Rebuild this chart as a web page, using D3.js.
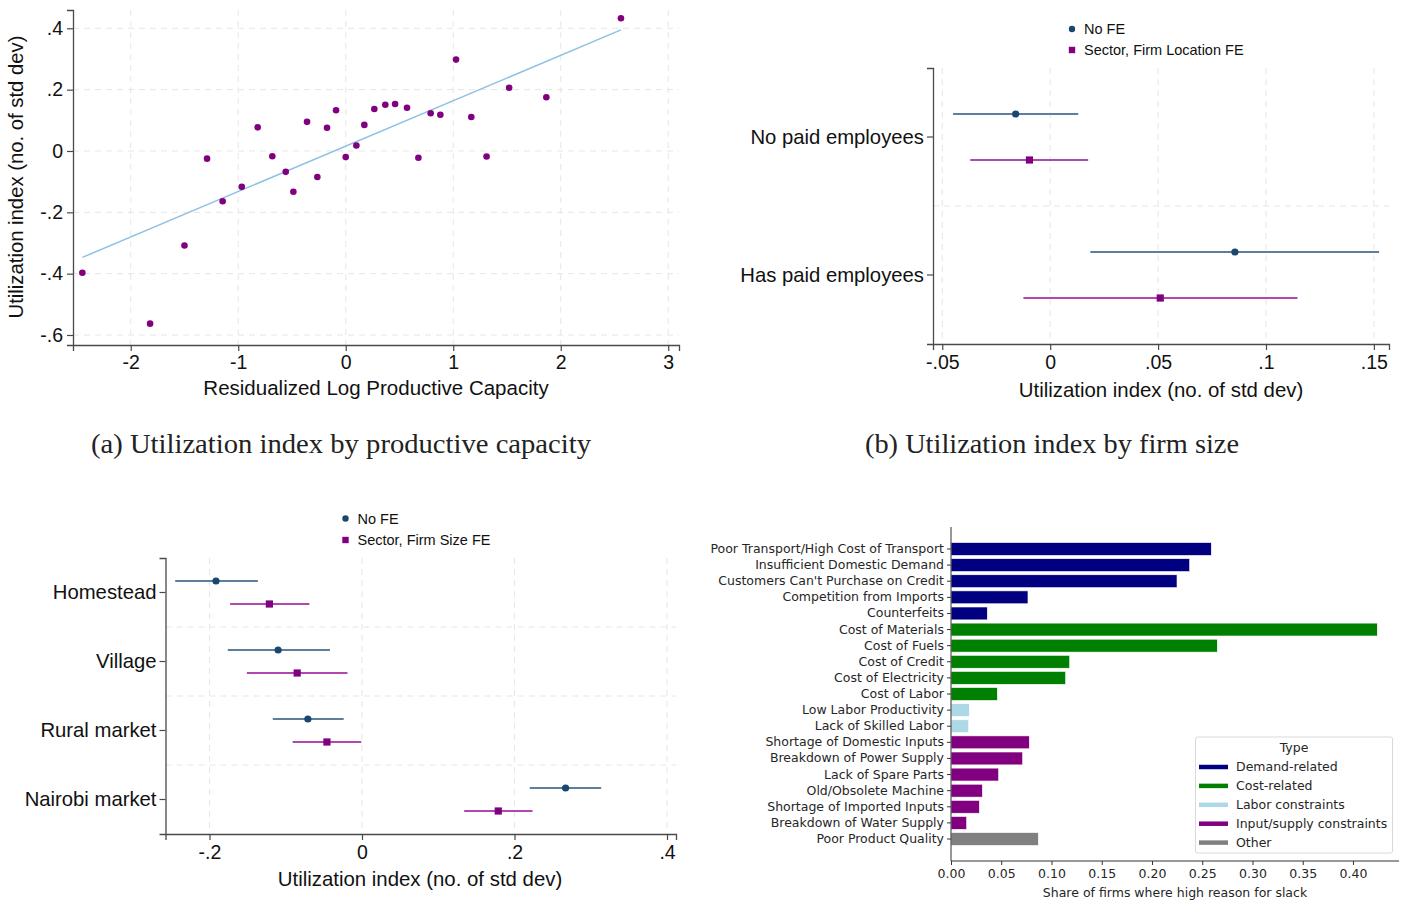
<!DOCTYPE html>
<html><head><meta charset="utf-8">
<script src="https://cdn.jsdelivr.net/npm/d3@7"></script>
<style>
html,body{margin:0;padding:0;background:#fff;}
svg{display:block;}
</style></head>
<body>
<svg id="chart" width="1406" height="901"></svg>
<script>
// ---------- DATA ----------
// Panel (a): binned scatter
const scatterX = [-2.45,-1.82,-1.50,-1.29,-1.145,-0.967,-0.819,-0.683,-0.558,-0.487,-0.36,-0.264,-0.174,-0.09,0.0,0.099,0.173,0.266,0.368,0.459,0.57,0.676,0.79,0.88,1.026,1.168,1.31,1.52,1.866,2.56];
const scatterY = [-0.397,-0.563,-0.308,-0.025,-0.164,-0.117,0.077,-0.017,-0.068,-0.133,0.095,-0.085,0.076,0.133,-0.02,0.018,0.085,0.137,0.151,0.153,0.141,-0.022,0.123,0.118,0.298,0.111,-0.018,0.206,0.175,0.433];
const fitX = [-2.45, 2.56];
const fitY = [-0.347, 0.395];
const aXTicks = [-2,-1,0,1,2,3];
const aXTickLabels = ["-2","-1","0","1","2","3"];
const aYTicks = [0.4,0.2,0,-0.2,-0.4,-0.6];
const aYTickLabels = [".4",".2","0","-.2","-.4","-.6"];

// Panel (b): by firm size
const bCategories = ["No paid employees","Has paid employees"];
const bSeries = ["No FE","Sector, Firm Location FE"];
const bNoFE_est = [-0.016, 0.0856];
const bNoFE_lo  = [-0.045, 0.0186];
const bNoFE_hi  = [0.013, 0.1524];
const bFE_est = [-0.0096, 0.051];
const bFE_lo  = [-0.037, -0.0124];
const bFE_hi  = [0.0176, 0.1146];
const bXTicks = [-0.05,0,0.05,0.1,0.15];
const bXTickLabels = ["-.05","0",".05",".1",".15"];

// Panel (c): by location
const cCategories = ["Homestead","Village","Rural market","Nairobi market"];
const cSeries = ["No FE","Sector, Firm Size FE"];
const cNoFE_est = [-0.1915,-0.110,-0.071,0.267];
const cNoFE_lo  = [-0.245,-0.176,-0.117,0.220];
const cNoFE_hi  = [-0.1366,-0.042,-0.024,0.3136];
const cFE_est = [-0.1215,-0.085,-0.046,0.1787];
const cFE_lo  = [-0.173,-0.151,-0.091,0.134];
const cFE_hi  = [-0.069,-0.019,-0.001,0.2236];
const cXTicks = [-0.2,0,0.2,0.4];
const cXTickLabels = ["-.2","0",".2",".4"];

// Panel (d): reasons for slack
const dReasons = ["Poor Transport/High Cost of Transport","Insufficient Domestic Demand","Customers Can't Purchase on Credit","Competition from Imports","Counterfeits","Cost of Materials","Cost of Fuels","Cost of Credit","Cost of Electricity","Cost of Labor","Low Labor Productivity","Lack of Skilled Labor","Shortage of Domestic Inputs","Breakdown of Power Supply","Lack of Spare Parts","Old/Obsolete Machine","Shortage of Imported Inputs","Breakdown of Water Supply","Poor Product Quality"];
const dShares = [0.259,0.2375,0.2249,0.0766,0.0361,0.4242,0.265,0.1181,0.1141,0.0461,0.0182,0.0176,0.0779,0.0713,0.0474,0.0312,0.0282,0.0156,0.0869];
const dTypes = ["Demand-related","Demand-related","Demand-related","Demand-related","Demand-related","Cost-related","Cost-related","Cost-related","Cost-related","Cost-related","Labor constraints","Labor constraints","Input/supply constraints","Input/supply constraints","Input/supply constraints","Input/supply constraints","Input/supply constraints","Input/supply constraints","Other"];
const dTypeNames = ["Demand-related","Cost-related","Labor constraints","Input/supply constraints","Other"];
const dTypeColors = ["#000080","#008000","#add8e6","#800080","#808080"];
const dXTicks = [0,0.05,0.10,0.15,0.20,0.25,0.30,0.35,0.40];

// ---------- DRAW ----------
const svg = d3.select("#chart");
svg.append("rect").attr("width",1406).attr("height",901).attr("fill","#fff");
const SANS = "'Liberation Sans', Arial, Helvetica, sans-serif";
const AXIS = "#4a4a4a";
const GRID = "#e6e6e6";

// ===== Panel (a) =====
(function(){
  const g = svg.append("g");
  const x = d3.scaleLinear().domain([-2.537,3.100]).range([73,679]);
  const y = d3.scaleLinear().domain([-0.6326,0.4597]).range([345,10]);
  g.selectAll(".gx").data(aXTicks).join("line")
    .attr("x1",d=>x(d)).attr("x2",d=>x(d)).attr("y1",10).attr("y2",345)
    .attr("stroke",GRID).attr("stroke-dasharray","6,5");
  g.selectAll(".gy").data(aYTicks).join("line")
    .attr("x1",73).attr("x2",679).attr("y1",d=>y(d)).attr("y2",d=>y(d))
    .attr("stroke",GRID).attr("stroke-dasharray","6,5");
  const xa = g.append("g").attr("transform","translate(0,345)")
    .call(d3.axisBottom(x).tickValues(aXTicks).tickFormat((d,i)=>aXTickLabels[i]).tickSize(6).tickPadding(4));
  const ya = g.append("g").attr("transform","translate(73,0)")
    .call(d3.axisLeft(y).tickValues(aYTicks).tickFormat((d,i)=>aYTickLabels[i]).tickSize(6).tickPadding(4));
  [xa,ya].forEach(a=>{
    a.select(".domain").attr("stroke",AXIS).attr("stroke-width",1.3);
    a.selectAll(".tick line").attr("stroke",AXIS).attr("stroke-width",1.2);
    a.selectAll("text").attr("font-family",SANS).attr("font-size",19.5).attr("fill","#111");
  });
  g.append("line").attr("x1",x(fitX[0])).attr("y1",y(fitY[0])).attr("x2",x(fitX[1])).attr("y2",y(fitY[1]))
    .attr("stroke","#8ec1e3").attr("stroke-width",1.5);
  g.selectAll(".pt").data(scatterX).join("circle")
    .attr("cx",d=>x(d)).attr("cy",(d,i)=>y(scatterY[i])).attr("r",3.3).attr("fill","#800080");
  g.append("text").attr("x",376).attr("y",395).attr("text-anchor","middle")
    .attr("font-family",SANS).attr("font-size",20.5).attr("fill","#111").text("Residualized Log Productive Capacity");
  g.append("text").attr("transform","translate(23,177) rotate(-90)").attr("text-anchor","middle")
    .attr("font-family",SANS).attr("font-size",20.3).attr("fill","#111").text("Utilization index (no. of std dev)");
})();

// ===== Coefficient plot helper =====
function coefPlot(opts){
  const g = svg.append("g");
  const x = d3.scaleLinear().domain(opts.xDomain).range([opts.left,opts.right]);
  const y = d3.scaleBand().domain(opts.categories).range([opts.top,opts.bottom]);
  g.selectAll(".gx").data(opts.xTicks).join("line")
    .attr("x1",d=>x(d)).attr("x2",d=>x(d)).attr("y1",opts.top).attr("y2",opts.bottom)
    .attr("stroke",GRID).attr("stroke-dasharray","6,5");
  g.selectAll(".sep").data(opts.categories.slice(1)).join("line")
    .attr("x1",opts.left).attr("x2",opts.right).attr("y1",d=>y(d)).attr("y2",d=>y(d))
    .attr("stroke",GRID).attr("stroke-dasharray","6,5");
  const xa = g.append("g").attr("transform",`translate(0,${opts.bottom})`)
    .call(d3.axisBottom(x).tickValues(opts.xTicks).tickFormat((d,i)=>opts.xTickLabels[i]).tickSize(6).tickPadding(5));
  const ya = g.append("g").attr("transform",`translate(${opts.left},0)`)
    .call(d3.axisLeft(y).tickSize(6).tickPadding(3));
  [xa,ya].forEach(a=>{
    a.select(".domain").attr("stroke",AXIS).attr("stroke-width",1.3);
    a.selectAll(".tick line").attr("stroke",AXIS).attr("stroke-width",1.2);
    a.selectAll("text").attr("font-family",SANS).attr("fill","#111");
  });
  xa.selectAll("text").attr("font-size",19.5);
  ya.selectAll("text").attr("font-size",20.3);
  const c = i => y(opts.categories[i]) + y.bandwidth()/2;
  const series = [
    {est:opts.s1est, lo:opts.s1lo, hi:opts.s1hi, off:-opts.offset, line:"#5f7d9c", mark:"#1a476f", shape:"circle"},
    {est:opts.s2est, lo:opts.s2lo, hi:opts.s2hi, off:opts.offset, line:"#b048b0", mark:"#800080", shape:"square"}
  ];
  series.forEach(s=>{
    g.selectAll(null).data(s.est).join("line")
      .attr("x1",(d,i)=>x(s.lo[i])).attr("x2",(d,i)=>x(s.hi[i]))
      .attr("y1",(d,i)=>c(i)+s.off).attr("y2",(d,i)=>c(i)+s.off)
      .attr("stroke",s.line).attr("stroke-width",1.8);
    if(s.shape==="circle"){
      g.selectAll(null).data(s.est).join("circle")
        .attr("cx",d=>x(d)).attr("cy",(d,i)=>c(i)+s.off).attr("r",3.6).attr("fill",s.mark);
    } else {
      g.selectAll(null).data(s.est).join("rect")
        .attr("x",d=>x(d)-3.6).attr("y",(d,i)=>c(i)+s.off-3.6).attr("width",7.2).attr("height",7.2).attr("fill",s.mark);
    }
  });
  const L = g.append("g");
  L.append("circle").attr("cx",opts.legX).attr("cy",opts.legY1).attr("r",3.2).attr("fill","#1a476f");
  L.append("rect").attr("x",opts.legX-3.2).attr("y",opts.legY2-3.2).attr("width",6.4).attr("height",6.4).attr("fill","#800080");
  L.append("text").attr("x",opts.legX+12).attr("y",opts.legY1+5).attr("font-family",SANS).attr("font-size",14.5).attr("fill","#111").text(opts.series[0]);
  L.append("text").attr("x",opts.legX+12).attr("y",opts.legY2+5).attr("font-family",SANS).attr("font-size",14.5).attr("fill","#111").text(opts.series[1]);
  g.append("text").attr("x",opts.titleX).attr("y",opts.titleY).attr("text-anchor","middle")
    .attr("font-family",SANS).attr("font-size",20.4).attr("fill","#111").text(opts.xTitle);
}

coefPlot({categories:bCategories, series:bSeries, xDomain:[-0.0543,0.1570], left:933, right:1389, top:68, bottom:344,
  xTicks:bXTicks, xTickLabels:bXTickLabels, offset:23,
  s1est:bNoFE_est, s1lo:bNoFE_lo, s1hi:bNoFE_hi, s2est:bFE_est, s2lo:bFE_lo, s2hi:bFE_hi,
  legX:1072, legY1:29, legY2:50, xTitle:"Utilization index (no. of std dev)", titleX:1161, titleY:397});

coefPlot({categories:cCategories, series:cSeries, xDomain:[-0.2577,0.4118], left:165.5, right:676, top:558, bottom:834,
  xTicks:cXTicks, xTickLabels:cXTickLabels, offset:11.5,
  s1est:cNoFE_est, s1lo:cNoFE_lo, s1hi:cNoFE_hi, s2est:cFE_est, s2lo:cFE_lo, s2hi:cFE_hi,
  legX:345.5, legY1:518.5, legY2:540, xTitle:"Utilization index (no. of std dev)", titleX:420, titleY:886});

// captions
svg.append("text").attr("x",341).attr("y",453).attr("text-anchor","middle")
  .attr("font-family","'Liberation Serif','DejaVu Serif',serif").attr("font-size",27).attr("fill","#222")
  .attr("textLength",500).attr("lengthAdjust","spacingAndGlyphs")
  .text("(a) Utilization index by productive capacity");
svg.append("text").attr("x",1052).attr("y",453).attr("text-anchor","middle")
  .attr("font-family","'Liberation Serif','DejaVu Serif',serif").attr("font-size",27).attr("fill","#222")
  .attr("textLength",374).attr("lengthAdjust","spacingAndGlyphs")
  .text("(b) Utilization index by firm size");

// ===== Panel (d) =====
(function(){
  const g = svg.append("g");
  const DF = "'DejaVu Sans', sans-serif";
  const x = d3.scaleLinear().domain([0,0.4458]).range([951,1399]);
  const y = d3.scaleBand().domain(dReasons).range([527,861]).paddingInner(0.2).paddingOuter(0.965);
  const color = d3.scaleOrdinal().domain(dTypeNames).range(dTypeColors);
  g.selectAll(".bar").data(dReasons).join("rect")
    .attr("x",x(0)).attr("y",d=>y(d)).attr("height",y.bandwidth())
    .attr("width",(d,i)=>x(dShares[i])-x(0))
    .attr("fill",(d,i)=>color(dTypes[i])).attr("stroke","#ffffff").attr("stroke-width",0.6);
  const xa = g.append("g").attr("transform","translate(0,861)")
    .call(d3.axisBottom(x).tickValues(dXTicks).tickFormat(d3.format(".2f")).tickSize(4).tickPadding(4));
  const ya = g.append("g").attr("transform","translate(951,0)")
    .call(d3.axisLeft(y).tickSize(4).tickPadding(3));
  [xa,ya].forEach(a=>{
    a.select(".domain").attr("stroke","#333").attr("stroke-width",1);
    a.selectAll(".tick line").attr("stroke","#333");
    a.selectAll("text").attr("font-family",DF).attr("font-size",12.5).attr("fill","#262626");
  });
  xa.select(".domain").attr("d","M951,0H1399");
  ya.select(".domain").attr("d","M0,527V861");
  g.append("text").attr("x",1175).attr("y",897).attr("text-anchor","middle")
    .attr("font-family",DF).attr("font-size",12.5).attr("fill","#262626").text("Share of firms where high reason for slack");
  const L = g.append("g");
  L.append("rect").attr("x",1195.5).attr("y",737).attr("width",197).attr("height",116).attr("rx",2)
    .attr("fill","#fff").attr("fill-opacity",0.8).attr("stroke","#d9d9d9");
  L.append("text").attr("x",1294).attr("y",752).attr("text-anchor","middle")
    .attr("font-family",DF).attr("font-size",12.5).attr("fill","#262626").text("Type");
  dTypeNames.forEach((t,i)=>{
    const yy = 767 + i*18.9;
    L.append("line").attr("x1",1199).attr("x2",1228).attr("y1",yy).attr("y2",yy)
      .attr("stroke",dTypeColors[i]).attr("stroke-width",4.5);
    L.append("text").attr("x",1236).attr("y",yy+4.3).attr("font-family",DF).attr("font-size",12.5)
      .attr("fill","#262626").text(t);
  });
})();
</script>
</body></html>
